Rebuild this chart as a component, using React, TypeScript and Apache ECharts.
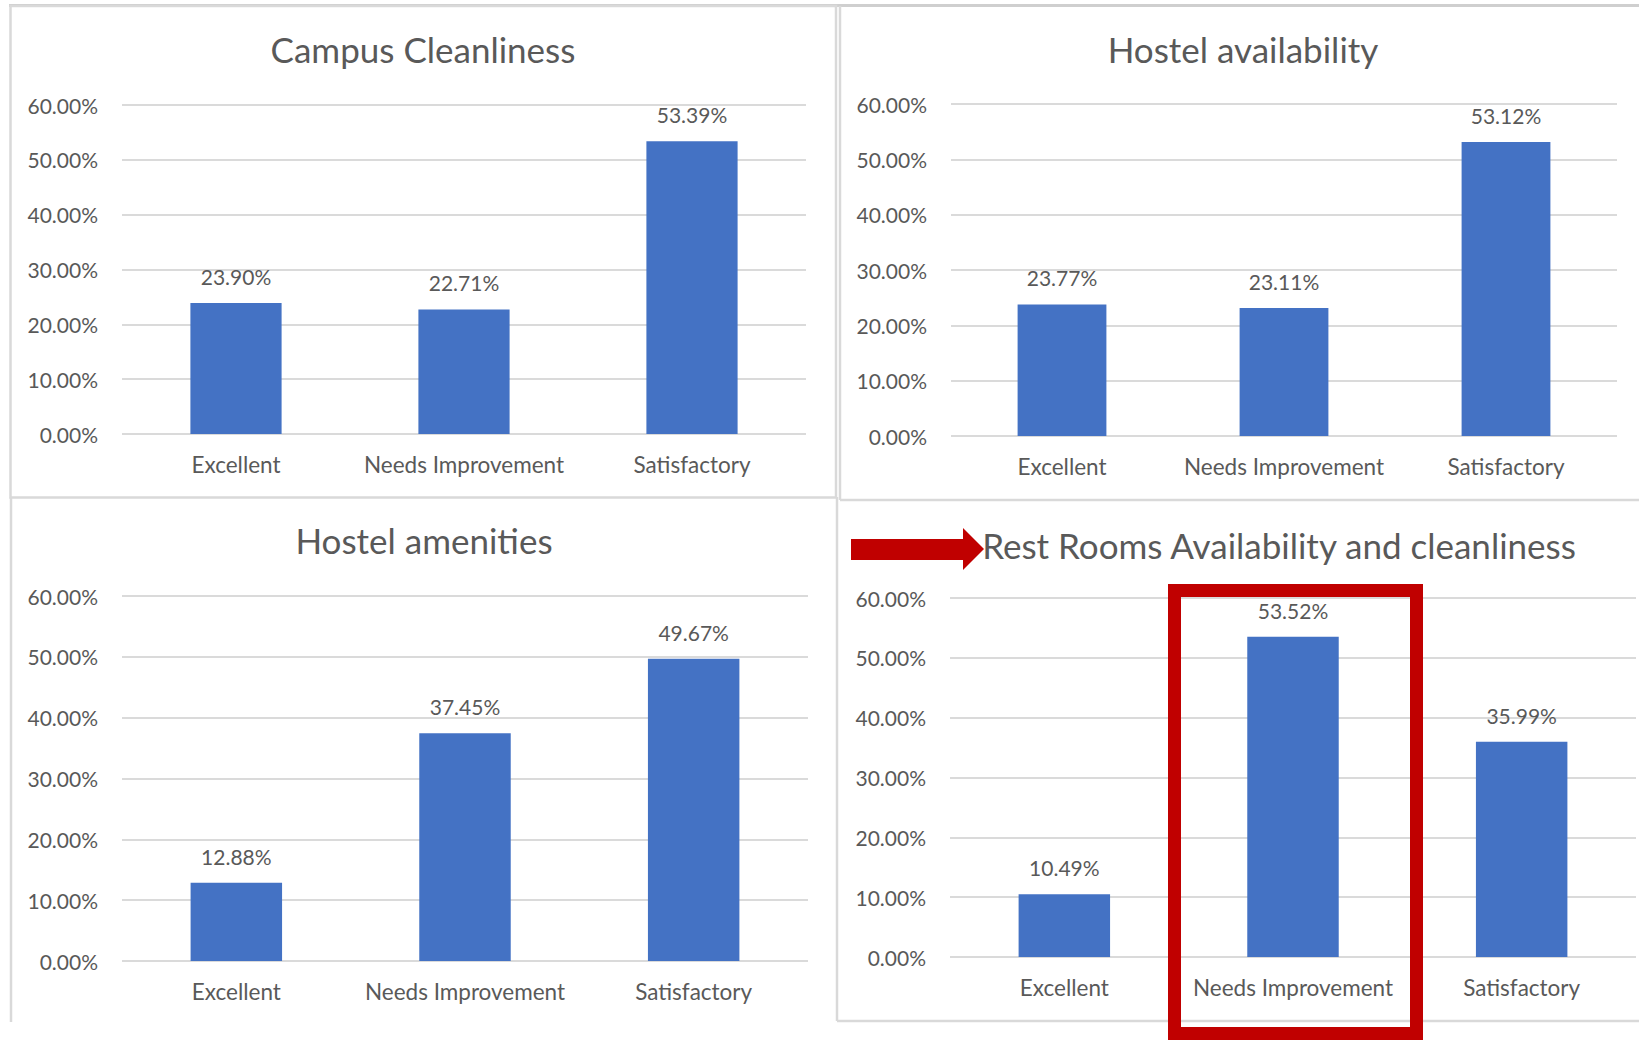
import React, { useEffect, useRef } from "react";
import * as echarts from "echarts";

const categories = ["Excellent", "Needs Improvement", "Satisfactory"];
const campusCleanliness = [23.9, 22.71, 53.39];
const hostelAvailability = [23.77, 23.11, 53.12];
const hostelAmenities = [12.88, 37.45, 49.67];
const restRooms = [10.49, 53.52, 35.99];
const titles = [
  "Campus Cleanliness",
  "Hostel availability",
  "Hostel amenities",
  "Rest Rooms Availability and cleanliness",
];
const yMin = 0;
const yMax = 60;
const yInterval = 10;

const FONT = "Lato";
const TEXT = "#595959";
const GRID = "#DADADA";
const BAR = "#4472C4";
const RED = "#C00000";
const BORDER = "#D9D9D9";

export default function App() {
  const ref = useRef<HTMLDivElement>(null);
  useEffect(() => {
    if (!ref.current) return;
    const chart = echarts.init(ref.current, undefined, { renderer: "svg" });
    const seriesData = [campusCleanliness, hostelAvailability, hostelAmenities, restRooms];
    const grids = [
      { left: 122, top: 105, width: 684, height: 329 },
      { left: 951, top: 104, width: 666, height: 332 },
      { left: 122, top: 596, width: 686, height: 365 },
      { left: 950, top: 598, width: 686, height: 359 },
    ];
    const titlePos = [
      [423, 49],
      [1243, 49],
      [424, 540],
      [1279, 545],
    ];
    const option: any = {
      animation: false,
      backgroundColor: "#ffffff",
      title: titles.map((t, i) => ({
        text: t,
        left: titlePos[i][0],
        top: titlePos[i][1],
        textAlign: "center",
        textVerticalAlign: "middle",
        padding: 0,
        textStyle: { fontFamily: FONT, fontSize: 35, fontWeight: "normal", color: TEXT },
      })),
      grid: grids.map((g) => ({ ...g, containLabel: false })),
      xAxis: grids.map((_, i) => ({
        type: "category",
        gridIndex: i,
        data: categories,
        axisLine: { show: false },
        axisTick: { show: false },
        axisLabel: { margin: 19, fontFamily: FONT, fontSize: 22.5, color: TEXT, interval: 0 },
      })),
      yAxis: grids.map((_, i) => ({
        type: "value",
        gridIndex: i,
        min: yMin,
        max: yMax,
        interval: yInterval,
        axisLine: { show: false },
        axisTick: { show: false },
        splitLine: { lineStyle: { color: GRID, width: 2 } },
        axisLabel: {
          margin: 24,
          fontFamily: FONT,
          fontSize: 21,
          color: TEXT,
          formatter: (v: number) => v.toFixed(2) + "%",
        },
      })),
      series: seriesData.map((d, i) => ({
        type: "bar",
        xAxisIndex: i,
        yAxisIndex: i,
        data: d,
        barWidth: "40%",
        itemStyle: { color: BAR },
        label: {
          show: true,
          position: "top",
          distance: 16,
          fontFamily: FONT,
          fontSize: 21,
          color: TEXT,
          formatter: (p: any) => Number(p.value).toFixed(2) + "%",
        },
      })),
      graphic: [
        { type: "rect", shape: { x: 9, y: 4, width: 1630, height: 3 }, style: { fill: "#CFCFCF" }, z: 1 },
        {
          type: "rect",
          shape: { x: 10.5, y: 6, width: 825.5, height: 491.5 },
          style: { fill: "none", stroke: BORDER, lineWidth: 2.5 },
          z: 1,
        },
        { type: "line", shape: { x1: 840, y1: 6, x2: 840, y2: 500 }, style: { stroke: BORDER, lineWidth: 2.5 }, z: 1 },
        { type: "line", shape: { x1: 840, y1: 500, x2: 1639, y2: 500 }, style: { stroke: BORDER, lineWidth: 2.5 }, z: 1 },
        { type: "line", shape: { x1: 11, y1: 497, x2: 11, y2: 1022 }, style: { stroke: BORDER, lineWidth: 2.5 }, z: 1 },
        { type: "line", shape: { x1: 837, y1: 497, x2: 837, y2: 1021 }, style: { stroke: BORDER, lineWidth: 2.5 }, z: 1 },
        { type: "line", shape: { x1: 837, y1: 1021, x2: 1639, y2: 1021 }, style: { stroke: BORDER, lineWidth: 2.5 }, z: 1 },
        {
          type: "polygon",
          shape: {
            points: [
              [851, 539],
              [963, 539],
              [963, 528],
              [984, 549],
              [963, 570],
              [963, 560],
              [851, 560],
            ],
          },
          style: { fill: RED },
          z: 100,
        },
        {
          type: "rect",
          shape: { x: 1174.5, y: 590.5, width: 242, height: 443 },
          style: { fill: "none", stroke: RED, lineWidth: 13 },
          z: 100,
        },
      ],
    };
    chart.setOption(option);
    return () => chart.dispose();
  }, []);
  return (
    <div
      ref={ref}
      style={{ position: "absolute", left: 0, top: 0, width: 1639, height: 1040, background: "#fff" }}
    />
  );
}
